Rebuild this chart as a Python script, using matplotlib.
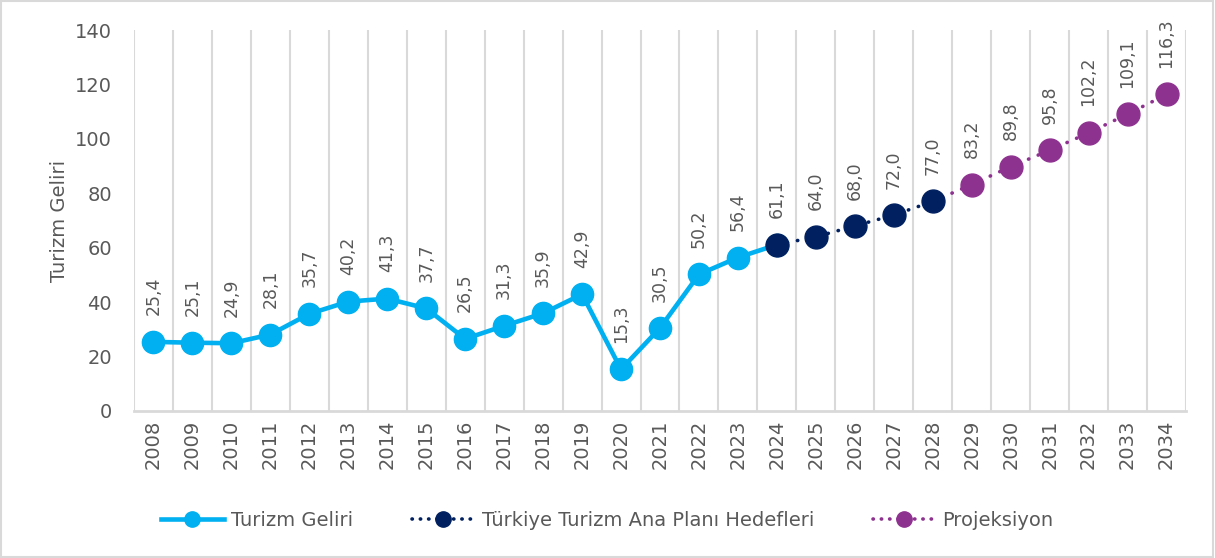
import numpy as np
import matplotlib.pyplot as plt
from matplotlib.patches import Rectangle

# data
years = list(range(2008, 2035))
gelir_years = list(range(2008, 2025))
gelir = [25.4, 25.1, 24.9, 28.1, 35.7, 40.2, 41.3, 37.7, 26.5, 31.3, 35.9, 42.9,
         15.3, 30.5, 50.2, 56.4, 61.1]
hedef_years = [2024, 2025, 2026, 2027, 2028]
hedef = [61.1, 64.0, 68.0, 72.0, 77.0]
proj_years = [2029, 2030, 2031, 2032, 2033, 2034]
proj = [83.2, 89.8, 95.8, 102.2, 109.1, 116.3]

c_gelir = '#00B0F0'
c_hedef = '#002060'
c_proj = '#8E3290'
c_text = '#595959'
c_grid = '#D9D9D9'

fig = plt.figure(figsize=(12.15, 5.58), dpi=100)
ax = fig.add_axes([134 / 1215, 1 - 411 / 558, (1186 - 134) / 1215, (411 - 30) / 558])

def xi(ys):
    return [y - 2008 for y in ys]

dots = (0, (0.1, 2.8))

# vertical gridlines at category boundaries
for b in np.arange(-0.5, len(years), 1.0):
    ax.axvline(b, color=c_grid, lw=1.5, zorder=0)

# projection line starts from last target point
ax.plot(xi([hedef_years[-1]] + proj_years), [hedef[-1]] + proj, color=c_proj,
        lw=2.6, ls=dots, dash_capstyle='round', zorder=2)
ax.plot(xi(proj_years), proj, ls='none', marker='o', ms=16.5, color=c_proj, zorder=3)

ax.plot(xi(gelir_years), gelir, color=c_gelir, lw=3.3, marker='o', ms=16,
        zorder=4, label='Turizm Geliri')
ax.plot(xi(hedef_years), hedef, color=c_hedef, lw=2.6, ls=dots,
        dash_capstyle='round', zorder=5)
ax.plot(xi(hedef_years), hedef, ls='none', marker='o', ms=16.5, color=c_hedef, zorder=6)

# data labels
labels_x = gelir_years + hedef_years[1:] + proj_years
labels_v = gelir + hedef[1:] + proj
for yr, v in zip(labels_x, labels_v):
    ax.annotate(f'{v:.1f}'.replace('.', ','), (yr - 2008, v), xytext=(0, 19),
                textcoords='offset points', rotation=90, ha='center', va='bottom',
                fontsize=12.5, color=c_text)

ax.set_xlim(-0.5, len(years) - 0.5)
ax.set_ylim(0, 140)
ax.set_yticks(range(0, 141, 20))
ax.set_xticks(range(len(years)))
ax.set_xticklabels([str(y) for y in years], rotation=90)
ax.tick_params(axis='y', length=0, pad=16, labelsize=14, labelcolor=c_text)
ax.tick_params(axis='x', length=0, pad=6, labelsize=14, labelcolor=c_text)
for s in ['top', 'right', 'left']:
    ax.spines[s].set_visible(False)
ax.spines['bottom'].set_color(c_grid)
ax.spines['bottom'].set_linewidth(2)
ax.set_ylabel('Turizm Geliri', fontsize=14, color=c_text, labelpad=4)

# legend handles
h1, = ax.plot([], [], color=c_gelir, lw=3.3, marker='o', ms=11)
h2, = ax.plot([], [], color=c_hedef, lw=2.6, ls=(0, (0.1, 2.2)), dash_capstyle='round',
              marker='o', ms=11)
h3, = ax.plot([], [], color=c_proj, lw=2.6, ls=(0, (0.1, 2.2)), dash_capstyle='round',
              marker='o', ms=11)
leg = fig.legend([h1, h2, h3],
                 ['Turizm Geliri', 'Türkiye Turizm Ana Planı Hedefleri', 'Projeksiyon'],
                 loc='center', bbox_to_anchor=(0.5, 1 - 520 / 558), ncol=3,
                 frameon=False, fontsize=14, handlelength=3.2, columnspacing=3,
                 handletextpad=0.4, numpoints=1)
for t in leg.get_texts():
    t.set_color(c_text)

fig.patches.append(Rectangle((0.001, 0.002), 0.997, 0.996, transform=fig.transFigure,
                             fill=False, edgecolor=c_grid, lw=1.5))

fig.savefig('out.png', dpi=100)
